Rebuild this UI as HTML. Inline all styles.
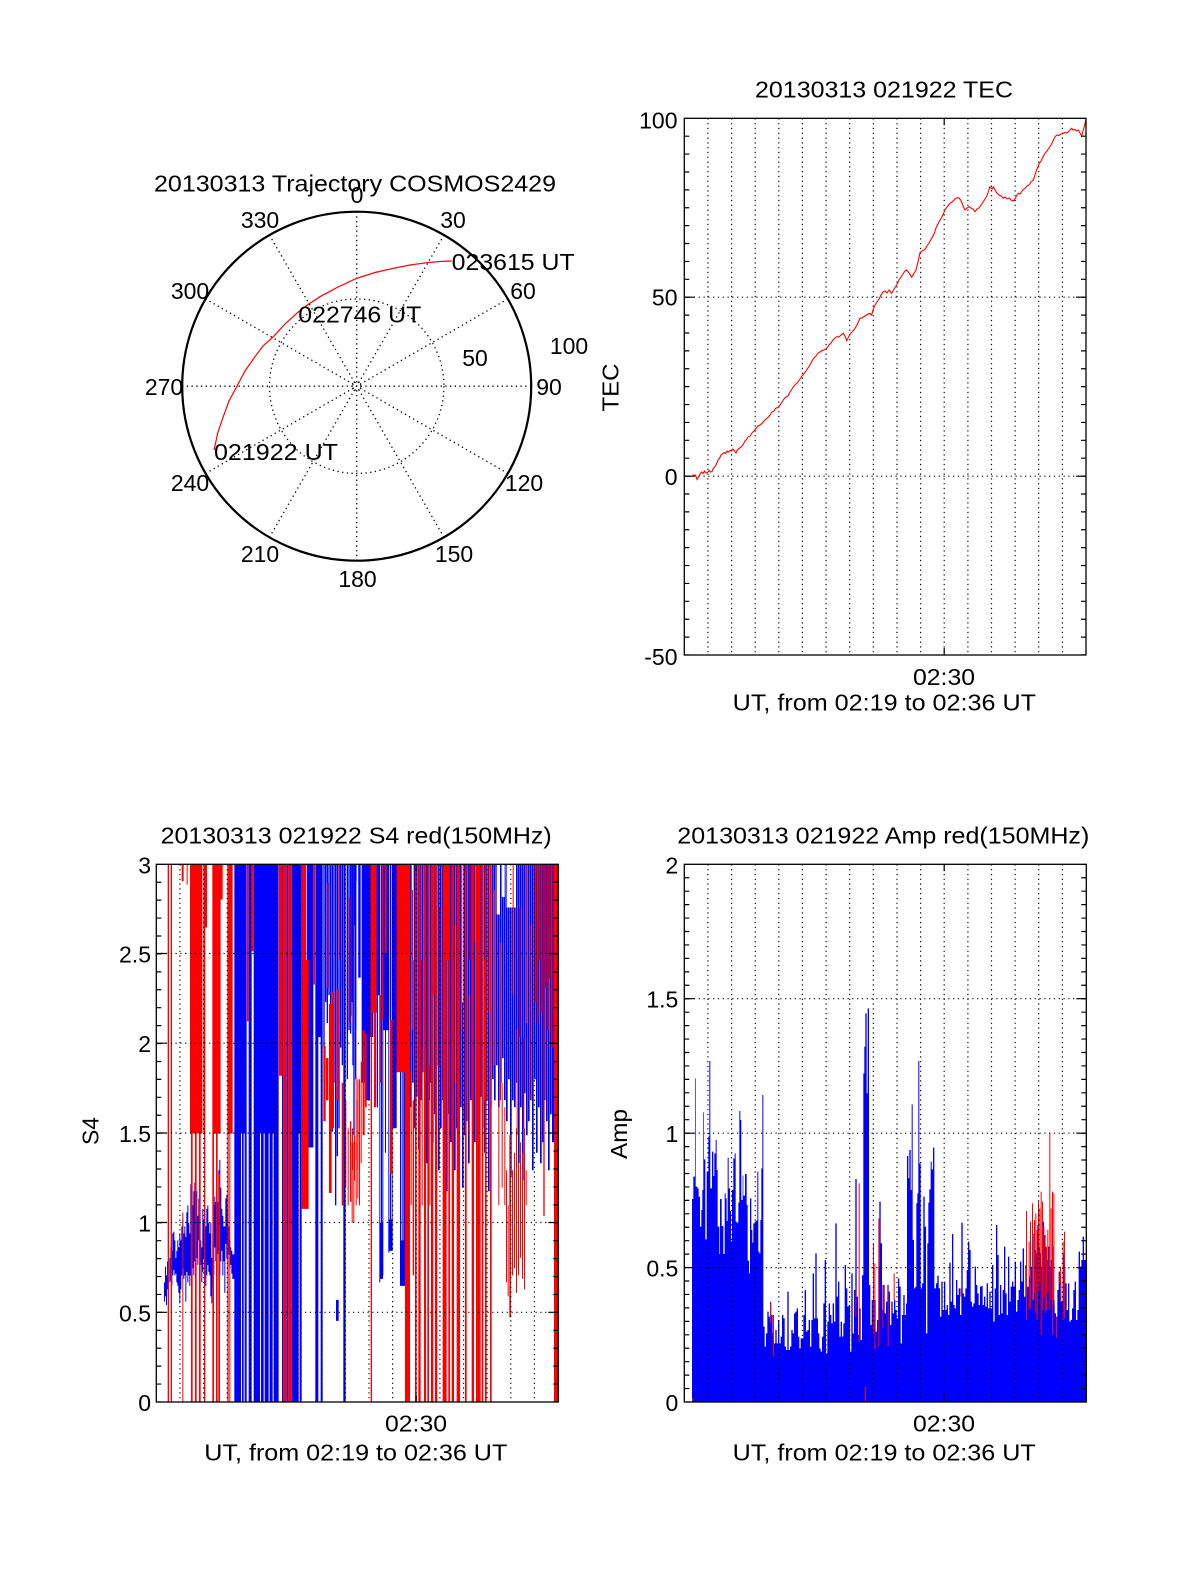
<!DOCTYPE html>
<html><head><meta charset="utf-8"><style>html,body{margin:0;padding:0;background:#fff}svg{display:block}text{font-family:"Liberation Sans",Arial,sans-serif;font-size:23px;fill:#000}</style></head><body>
<svg width="1200" height="1575" viewBox="0 0 1200 1575" xmlns="http://www.w3.org/2000/svg">
<defs>
<clipPath id="cS4"><rect x="156.3" y="864.3" width="402" height="537.7"/></clipPath>
<clipPath id="cAmp"><rect x="684.3" y="864.3" width="402" height="537.7"/></clipPath>
<clipPath id="cTEC"><rect x="684.3" y="118.3" width="401.7" height="536.7"/></clipPath>
</defs>
<rect width="1200" height="1575" fill="#fff"/>

<!-- ================= POLAR ================= -->
<g fill="none" stroke="#000">
<circle cx="356.7" cy="386.2" r="87.25" stroke-width="1.3" stroke-dasharray="1.3 3.4"/>
<circle cx="356.7" cy="386.2" r="4" stroke-width="1" stroke-dasharray="1.3 2"/>
<path stroke-width="1.3" stroke-dasharray="1.3 3.4" d="M356.7 211.7V560.7M443.95 235.08L269.45 537.32M507.82 298.95L205.58 473.45M531.2 386.2H182.2M507.82 473.45L205.58 298.95M443.95 537.32L269.45 235.08"/>
<circle cx="356.7" cy="386.2" r="174.5" stroke-width="2.2"/>
<path stroke="#f00" stroke-width="1.2" d="M214 450L218 432L223.3 416.7L229 401L236.7 386.7L245 371L255 356.7L263 346L273.3 336.7L285 324L296.7 313.3L308 304.5L320 296.7L338 287L356.7 278.3L375 272.5L393.3 268.3L410 265L426.7 262.7L440 261.5L451.7 261"/>
</g>
<text x="154" y="191.5" textLength="402" lengthAdjust="spacingAndGlyphs">20130313 Trajectory COSMOS2429</text>
<g text-anchor="middle">
<text x="357" y="203">0</text>
<text x="260" y="228">330</text>
<text x="453" y="228">30</text>
<text x="190" y="299">300</text>
<text x="523" y="299">60</text>
<text x="569" y="354">100</text>
<text x="475" y="366">50</text>
<text x="164" y="395">270</text>
<text x="549" y="395">90</text>
<text x="190" y="491">240</text>
<text x="524" y="491">120</text>
<text x="260" y="562">210</text>
<text x="454" y="562">150</text>
<text x="357.5" y="587">180</text>
</g>
<text x="451.7" y="270" textLength="123" lengthAdjust="spacingAndGlyphs">023615 UT</text>
<text x="298.3" y="322.7" textLength="123" lengthAdjust="spacingAndGlyphs">022746 UT</text>
<text x="214" y="460" textLength="124" lengthAdjust="spacingAndGlyphs">021922 UT</text>

<!-- ================= TEC ================= -->
<g fill="none" stroke="#000" stroke-width="1.2" stroke-dasharray="1.2 3.6">
<path d="M707.9 118.3V655M731.6 118.3V655M755.2 118.3V655M778.8 118.3V655M802.4 118.3V655M826.1 118.3V655M849.7 118.3V655M873.3 118.3V655M897 118.3V655M920.6 118.3V655M944.2 118.3V655M967.9 118.3V655M991.5 118.3V655M1015.1 118.3V655M1038.7 118.3V655M1062.4 118.3V655"/>
<path d="M684.3 297.2H1086M684.3 476.2H1086"/>
</g>
<polyline clip-path="url(#cTEC)" fill="none" stroke="#f00" stroke-width="1.1" points="692.7,474.5 694,476 695.5,475 697,479.5 698.5,477 700,474 701.5,472 703,473.5 704.5,471 706,473 707.5,472.5 709,470.5 710.5,472 712,471.5 713.5,468 715,466.5 716.5,464 718,460 719.5,458.5 721,455 722.5,454 724,452.5 725.5,453.5 727,451 728.5,452 730,450.5 731.5,451 733,449 734.5,451 736,453 737.5,450 739,448.5 740.5,447.5 742,446 743.5,444 745,441 746.5,439.5 748,437 750,436 752,433 754,431 756,428.5 758,426 760,425 762,423.5 764,421 766,419 768,417.5 770,415 772,412 774,411 776,408 778,407.5 780,405 782,402 784,399 786,397 788,396 790,392 792,389 794,386 796,384 798,382 800,379 802,376 804,373.5 806,371 808,368 810,365 812,361 814,358 816,356 818,353 820,352 822,350.5 824,350 826.7,348.3 829,345 831,343 833,340 835,338 836.7,336.7 839,337 841,335 843.3,333.3 845,336 846.7,340.7 849,336 851,333 853,331 855,328.3 857,325 860,318.3 862,318 865,316 868,314 870,313.3 871.7,315 873,310 875,305 877,302 879,299 881,295 883.3,291.7 885,291 887,293 889,290 891.7,293.3 894,289 896.7,285 899,280 901,277 903,274 905,271 906.7,270 909,273 911.7,277.3 913,275 916,270 918,262 920,252.7 922,251 925,249.3 927,246 929,243 931.7,238.3 934,234 936,228 938,224 940,220 942,217 945,210 947,207 950,203.3 952,202 955,199 957.3,197.7 959,198 960.7,200 962,203 963.5,207 965,210 967,208 969.3,206.7 971,208 973,209 975,211.7 977,209 979,208 981,205 983.3,201.7 985,199 987,196 988.5,191 990,186.7 992,189 993.5,187 995,190 997,193 999,195 1001,196 1003.3,198.3 1005,197 1007,199 1009,198 1011,200 1013.3,201 1015,199 1016.5,196 1018.3,193.3 1020,194 1022,191 1025,188.3 1027,186 1029,185 1031,182 1033.3,180 1035,175 1037,169 1039.3,163.3 1041,161 1043,157 1045,153.3 1047,151 1049,148 1051,145 1053,141 1055,136.7 1057,135 1059,135.5 1061,134 1063.3,133.3 1065,132.5 1067,133 1069,131 1071.7,128.3 1073,130 1075,129.5 1076.5,131 1078.3,130 1080,133 1081.7,136 1083,131 1084.5,126 1086,119.3"/>
<g fill="none" stroke="#000">
<rect x="684.3" y="118.3" width="401.7" height="536.7" stroke-width="1.3"/>
<path stroke-width="5" stroke-dasharray="1.2 16.69" stroke-dashoffset="0.6" d="M686.8 655V118.3M1083.5 655V118.3"/>
<path stroke-width="1.2" d="M684.3 297.2h10M684.3 476.2h10M1086 297.2h-10M1086 476.2h-10M944.2 655v-7M944.2 118.3v7"/>
</g>
<text x="755" y="97.3" textLength="258" lengthAdjust="spacingAndGlyphs">20130313 021922 TEC</text>
<g text-anchor="end">
<text x="677.5" y="128.3">100</text>
<text x="677.5" y="305.5">50</text>
<text x="677.5" y="485">0</text>
<text x="677.5" y="665">-50</text>
</g>
<text x="944" y="685" text-anchor="middle" textLength="62" lengthAdjust="spacingAndGlyphs">02:30</text>
<text x="732.7" y="710.7" textLength="303.3" lengthAdjust="spacingAndGlyphs">UT, from 02:19 to 02:36 UT</text>
<text transform="translate(618.3,387.5) rotate(-90)" text-anchor="middle" textLength="48" lengthAdjust="spacingAndGlyphs">TEC</text>

<!-- ================= S4 ================= -->
<g clip-path="url(#cS4)">
<g transform="translate(150,855) scale(0.333333,0.35032)">
<path fill="#00f" d="M42 1220h3V1275h-3ZM45 1175h3V1260h-3ZM48 1200h3V1285h-3ZM51 1160h3V1240h-3ZM54 1140h3V1230h-3ZM58 1150h3V1220h-3ZM61 1120h3V1215h-3ZM64 1130h3V1230h-3ZM67 1080h3V1200h-3ZM70 1075h3V1185h-3ZM73 1100h3V1200h-3ZM76 1150h3V1195h-3ZM79 1130h3V1220h-3ZM82 1100h3V1230h-3ZM85 1120h3V1250h-3ZM88 1080h3V1280h-3ZM91 1100h3V1240h-3ZM94 1060h3V1200h-3ZM97 1040h3V1180h-3ZM100 1080h3V1210h-3ZM103 1060h3V1200h-3ZM106 1090h3V1275h-3ZM109 1020h3V1190h-3ZM112 1000h3V1220h-3ZM115 1050h3V1200h-3ZM118 1080h3V1230h-3ZM121 940h3V1200h-3ZM124 920h3V1230h-3ZM127 1000h3V1180h-3ZM130 960h3V1200h-3ZM133 935h3V1160h-3ZM136 980h3V1195h-3ZM139 960h3V1150h-3ZM142 1030h3V1170h-3ZM145 980h3V1100h-3ZM148 1080h3V1220h-3ZM151 1100h3V1170h-3ZM154 1120h3V1220h-3ZM157 1010h3V1190h-3ZM160 1040h3V1150h-3ZM163 1000h3V1165h-3ZM166 1060h3V1230h-3ZM169 1010h3V1200h-3ZM172 1000h3V1170h-3ZM175 1050h3V1190h-3ZM178 1080h3V1200h-3ZM181 1050h3V1260h-3ZM184 1150h3V1280h-3ZM187 1080h3V1230h-3ZM190 1000h3V1200h-3ZM193 975h3V1120h-3ZM196 990h3V1160h-3ZM199 930h3V1110h-3ZM202 990h3V1140h-3ZM205 900h3V1130h-3ZM208 870h3V1200h-3ZM211 950h3V1160h-3ZM214 1010h3V1130h-3ZM217 1030h3V1200h-3ZM220 1060h3V1160h-3ZM223 1060h3V1250h-3ZM226 980h3V1110h-3ZM229 970h3V1150h-3ZM232 1020h3V1200h-3ZM235 1060h3V1140h-3ZM238 1100h3V1180h-3ZM241 1120h3V1170h-3ZM244 1130h3V1195h-3ZM247 1140h3V1210h-3ZM250 1140h3V1210h-3Z
M253 27H290V1560H253ZM296 27H305V1560H296ZM311 27H386V1560H311ZM396 27H400V1560H396ZM410 27H415V1560H410ZM425 27H455V1560H425ZM470 27H490V835H470ZM496 27H505V1560H496ZM505 27H512V520H505ZM512 27H518V1560H512Z
M520 27h4V550h-4ZM525 27h4V420h-4ZM530 27h4V480h-4ZM535 27h4V400h-4ZM540 27h4V700h-4ZM545 27h4V790h-4ZM550 27h4V650h-4ZM555 27h4V1000h-4ZM560 27h4V860h-4ZM565 27h4V780h-4ZM570 27h4V550h-4ZM575 27h4V600h-4ZM558 1270H566V1330H558ZM580 27H587V1560H580ZM590 27h4V640h-4ZM595 27h4V500h-4ZM600 27h4V510h-4ZM605 27h4V420h-4ZM610 27h4V800h-4ZM615 27h4V640h-4ZM620 27h4V500h-4ZM625 27h4V350h-4Z"/>
<path fill="#fff" d="M273 795H276V1560H273ZM281 795H284V1560H281ZM330 795H333V1560H330ZM341 795H344V1560H341ZM356 795H359V1560H356ZM368 795H371V1560H368ZM446 795H449V1560H446Z"/>
<path fill="#f00" d="M53 27H57V1560H53ZM62 27H66V1560H62ZM95 27H101V75H95ZM97 1020H100V1560H97ZM110 27H113V85H110ZM120 27H157V795H120ZM123 795H128V1560H123ZM135 795H140V1560H135ZM147 795H152V1560H147ZM160 27H166V795H160ZM166 27H171V207H166ZM162 795H166V1560H162ZM187 27H212V795H187ZM212 27H218V127H212ZM187 795H192V1560H187ZM198 795H203V1560H198ZM205 910H210V1560H205ZM232 27H248V795H232ZM232 795H236V1560H232ZM238 795H241V1560H238ZM291 27H296V475H291ZM305 27H311V275H305ZM387 27H398V630H387ZM400 27H410V1560H400ZM415 27H425V1560H415ZM455 27H462V1010H455ZM462 27H468V1010H462ZM468 300H476V1010H468ZM490 27H495V370H490ZM520 545H527V760H520ZM528 580H535V700H528ZM537 425H545V965H537ZM545 390H552V780H545ZM560 385H567V700H560ZM575 650H580V1000H575ZM586 700H589V950H586ZM593 780H596V1000H593ZM605 820H608V1050H605ZM610 820H613V1050H610ZM617 630H620V1000H617ZM622 650H625V980H622ZM627 640H630V1000H627ZM532 80h3V380h-3ZM567 27h3V300h-3ZM598 120h3V480h-3Z"/>
</g>
<g transform="translate(350,855) scale(0.333333,0.35032)">
<path fill="#00f" d="M2 27H5V460H2ZM7 27H10V600H7ZM12 27H15V200H12ZM17 27H20V75H17ZM25 27H32V350H25ZM35 27H45V650H35ZM45 27H60V700H45ZM60 27H70V520H60ZM70 27H90V400H70ZM80 400H84V720H80ZM88 27H91V1220H88ZM93 27H96V1150H93ZM97 27H100V1200H97ZM89 1050H99V1210H89ZM100 27H115V500H100ZM105 500H108V850H105ZM115 27H118V1135H115ZM120 27H123V1080H120ZM125 27H128V1045H125ZM116 1040H128V1130H116ZM128 27H140V780H128ZM140 27H150V600H140ZM150 27H153V1230H150ZM155 27H158V1100H155ZM160 27H165V1200H160ZM152 1100H165V1230H152Z
M180 27h5V720h-5ZM186 27h5V650h-5ZM192 27h5V780h-5ZM198 27h5V690h-5ZM204 27h5V840h-5ZM210 27h5V700h-5ZM216 27h5V620h-5ZM222 27h5V760h-5ZM228 27h5V880h-5ZM234 27h5V700h-5ZM240 27h5V650h-5ZM246 27h5V820h-5ZM252 27h5V740h-5ZM258 27h5V600h-5ZM264 27h5V900h-5ZM270 27h5V780h-5ZM276 27h5V700h-5ZM282 27h5V850h-5ZM288 27h5V960h-5ZM294 27h5V740h-5ZM300 27h5V820h-5ZM306 27h5V700h-5ZM312 27h5V900h-5ZM318 27h5V780h-5ZM324 27h5V860h-5ZM330 27h5V720h-5ZM336 27h5V950h-5ZM342 27h5V800h-5ZM348 27h5V760h-5ZM354 27h5V880h-5ZM360 27h5V700h-5ZM366 27h5V640h-5ZM372 27h5V820h-5ZM378 27h5V760h-5ZM384 27h5V900h-5ZM390 27h5V690h-5ZM396 27h5V780h-5ZM402 27h5V850h-5ZM408 27h5V700h-5ZM414 27h5V960h-5ZM420 27h5V720h-5ZM426 27h5V640h-5ZM432 27h5V700h-5ZM438 27h5V600h-5ZM444 27h5V720h-5ZM450 27h5V650h-5ZM456 27h5V580h-5ZM462 27h5V700h-5ZM468 27h5V760h-5ZM474 27h5V640h-5ZM480 27h5V920h-5ZM486 27h5V700h-5ZM492 27h5V720h-5ZM498 27h5V650h-5ZM504 27h5V880h-5ZM510 27h5V720h-5ZM516 27h5V930h-5ZM522 27h5V680h-5ZM528 27h5V800h-5ZM534 27h5V760h-5ZM540 27h5V700h-5ZM546 27h5V900h-5ZM552 27h5V640h-5ZM558 27h5V850h-5ZM564 27h5V720h-5ZM570 27h5V880h-5ZM576 27h5V820h-5ZM582 27h5V700h-5ZM588 27h5V760h-5ZM594 27h5V900h-5ZM600 27h5V740h-5ZM606 27h6V820h-6Z"/>
<path fill="#fff" d="M20 27H24V700H20ZM440 27H450V170H440ZM470 27H498V150H470ZM455 27H464V120H455ZM336 27H341V420H336ZM186 27H190V300H186Z"/>
<path fill="#f00" d="M0 760H4V990H0ZM6 780H9V900H6ZM12 800H15V930H12ZM17 820H20V870H17ZM22 640H25V900H22ZM27 700H30V880H27ZM32 590H35V880H32ZM38 500H44V800H38ZM45 510H50V720H45ZM62 27H66V1560H62ZM66 27H80V450H66ZM72 450H78V720H72ZM90 400H93V650H90ZM95 27H100V470H95ZM105 27H110V280H105ZM120 470H128V910H120ZM140 27H165V620H140ZM165 27H180V1560H165ZM182 620H185V1000H182ZM188 700H192V1200H188ZM195 27H200V1560H195ZM205 27H212V1560H205ZM215 550H218V1000H215ZM222 27H228V1560H222ZM232 27H237V1560H232ZM238 600H241V1000H238ZM243 27H250V1560H243ZM255 27H262V1560H255ZM278 27H290V1560H278ZM290 27H300V300H290ZM295 27H300V1560H295ZM305 27H312V1560H305ZM320 27H330V1560H320ZM345 27H350V1560H345ZM358 27h3V300h-3ZM374 27h3V250h-3ZM365 27H372V1560H365ZM378 27H392V1560H378ZM395 27H400V1560H395ZM405 27H410V1560H405ZM420 27H425V1560H420ZM445 700H448V1000H445ZM455 650H458V950H455ZM463 720H466V1000H463ZM468 900H471V1220H468ZM473 1000H476V1260H473ZM478 800H483V1320H478ZM486 900H489V1200H486ZM492 850H495V1180H492ZM498 780H501V1250H498ZM504 880H507V1200H504ZM510 820H513V1150H510ZM516 850H519V1210H516ZM522 780H525V1240H522ZM527 900H530V1000H527ZM500 500H503V800H500ZM520 520H523V780H520Z
M186 100h3V500h-3ZM214 300h3V700h-3ZM251 27h3V400h-3ZM268 150h3V600h-3ZM314 200h3V650h-3ZM338 27h3V500h-3ZM356 400h3V800h-3ZM402 300h3V700h-3ZM416 27h3V450h-3ZM432 100h3V600h-3ZM450 250h3V700h-3ZM488 27h3V400h-3ZM508 150h3V520h-3ZM528 27h3V480h-3ZM542 200h3V700h-3Z
M555 27h4V420h-4ZM561 27h4V480h-4ZM567 27h3V300h-3ZM573 27h4V450h-4ZM586 27h3V380h-3ZM592 27h4V500h-4ZM598 27h3V350h-3ZM603 27h3V550h-3ZM608 27h3V550h-3ZM580 27H584V1030H580ZM612 27H626V1560H612Z"/>
</g>
</g>
<g fill="none" stroke="#000" stroke-width="1.2" stroke-dasharray="1.2 3.6">
<path d="M179.9 864.3V1402M203.6 864.3V1402M227.2 864.3V1402M250.8 864.3V1402M274.5 864.3V1402M298.1 864.3V1402M321.7 864.3V1402M345.3 864.3V1402M369 864.3V1402M392.6 864.3V1402M416.2 864.3V1402M439.9 864.3V1402M463.5 864.3V1402M487.1 864.3V1402M510.8 864.3V1402M534.4 864.3V1402"/>
<path d="M156.3 953.5H558.3M156.3 1043.2H558.3M156.3 1133H558.3M156.3 1222.5H558.3M156.3 1312.3H558.3"/>
</g>
<g fill="none" stroke="#000">
<rect x="156.3" y="864.3" width="402" height="537.7" stroke-width="1.3"/>
<path stroke-width="5" stroke-dasharray="1.2 16.723" stroke-dashoffset="0.6" d="M158.8 1402V864.3M555.8 1402V864.3"/>
<path stroke-width="1.2" d="M156.3 953.5h10M156.3 1043.2h10M156.3 1133h10M156.3 1222.5h10M156.3 1312.3h10M558.3 953.5h-10M558.3 1043.2h-10M558.3 1133h-10M558.3 1222.5h-10M558.3 1312.3h-10M416.2 1402v-7M416.2 864.3v7"/>
</g>
<text x="160.7" y="843.3" textLength="391" lengthAdjust="spacingAndGlyphs">20130313 021922 S4 red(150MHz)</text>
<g text-anchor="end">
<text x="151" y="873.3">3</text>
<text x="151" y="962.5">2.5</text>
<text x="151" y="1052.2">2</text>
<text x="151" y="1142">1.5</text>
<text x="151" y="1231.5">1</text>
<text x="151" y="1321.3">0.5</text>
<text x="151" y="1411">0</text>
</g>
<text x="416" y="1431.7" text-anchor="middle" textLength="62" lengthAdjust="spacingAndGlyphs">02:30</text>
<text x="204.3" y="1460.7" textLength="303" lengthAdjust="spacingAndGlyphs">UT, from 02:19 to 02:36 UT</text>
<text transform="translate(98.3,1131) rotate(-90)" text-anchor="middle" textLength="28" lengthAdjust="spacingAndGlyphs">S4</text>

<!-- ================= AMP ================= -->
<g clip-path="url(#cAmp)">
<g transform="translate(680,1000) scale(0.333333)">
<path fill="#00f" d="M36 1205V597H40V530H45V235H47V560H52V565H56V590H60V680H64V630H67V570H70V337H72V478H76V718H80V515H85V410H88V183H91V565H96V455H100V528H103V460H107V420H110V510H113V680H118V762H120V597H125V678H130V762H134V580H137V595H140V663H143V473H146V565H150V633H153V724H156V570H160V475H164V460H167V665H170V668H175V608H178V333H181V360H184V600H188V527H190V587H195V522H200V615H203V782H207V820H210V595H214V690H217V728H220V670H224V665H228V662H232V515H235V755H238V760H241V660H244V505H247V285H250V980H254V1040H258V1000H262V935H266V950H270V908H274V945H278V1000H282V1030H286V990H290V1030H294V960H298V1030H302V1010H306V945H310V955H314V1040H318V1050H322V875H326V1050H330V1040H334V990H338V1000H342V940H346V935H350V925H354V1010H358V1045H362V1015H366V1015H370V945H374V870H378V995H382V990H386V960H390V1040H394V960H398V820H402V955H406V760H410V955H414V1000H418V1045H422V1055H426V1010H430V910H434V780H438V1060H442V965H446V910H450V945H454V970H458V910H462V965H466V670H470V890H474V845H478V1010H482V965H486V1010H490V970H494V795H498V865H502V920H506V915H510V1055H514V820H518V1000H522V870H526V537H530V890H534V1005H538V925H542V1020H546V826H550V220H553V140H556V40H560V280H563V25H567V855H571V975H575V900H579V900H583V900H587V995H591V960H595V800H598V605H602V730H606V930H610V855H614V940H618V905H622V855H626V875H630V975H634V905H638V940H642V900H646V930H650V955H654V835H658V860H662V1030H666V945H670V885H674V945H678V910H681V468H685V535H688V450H692V570H695V313H698V720H702V865H706V860H709V610H712V580H715V183H718V490H722V865H726V850H730V590H734V680H738V1000H742V730H745V608H748V568H752V485H755V508H759V443H763V865H768V850H772V827H776V865H780V950H784V845H788V930H792V845H796V930H800V915H804V945H808V788H812V905H816V702H820V915H824V925H828V840H832V885H836V865H840V945H844V668H848V880H852V890H856V865H860V810H864V725H868V750H872V905H876V920H880V910H884V800H888V855H892V880H896V915H900V860H904V858H908V915H912V890H916V920H920V850H924V925H928V875H932V925H936V795H940V965H944V865H948V675H952V765H956V945H960V855H964V940H968V870H972V740H976V880H980V945H984V770H988V905H992V860H996V845H1000V860H1004V785H1008V935H1012V900H1016V870H1020V785H1024V845H1028V745H1032V890H1036V795H1040V860H1044V860H1048V830H1052V800H1056V900H1060V700H1064V750H1068V760H1072V675H1076V740H1080V760H1084V800H1088V665H1092V705H1096V740H1100V780H1104V740H1108V800H1112V780H1116V740H1120V900H1124V940H1128V950H1132V870H1136V815H1140V850H1144V905H1148V760H1152V800H1156V850H1160V930H1164V850H1168V965H1172V960H1176V925H1180V870H1184V845H1188V960H1192V930H1196V755H1200V800H1204V780H1208V710H1212V780H1220V1205Z"/>
<path fill="#f00" d="M270 905h3V970h-3ZM279 945h3V1070h-3ZM526 870h3V950h-3ZM536 550h3V1025h-3ZM579 730h3V1000h-3ZM583 790h3V1050h-3ZM595 655h3V1040h-3ZM607 855h3V985h-3ZM623 858h3V1040h-3ZM641 820h3V900h-3ZM841 865h3V890h-3ZM1038 633h3V960h-3ZM1046 725h3V930h-3ZM1050 665h3V925h-3ZM1056 610h3V900h-3ZM1062 660h3V880h-3ZM1066 640h3V940h-3ZM1070 690h3V960h-3ZM1074 605h3V870h-3ZM1078 625h3V850h-3ZM1082 575h3V1005h-3ZM1086 605h3V930h-3ZM1090 680h3V890h-3ZM1094 705h3V940h-3ZM1098 740h3V930h-3ZM1102 690h3V880h-3ZM1108 398h3V930h-3ZM1112 625h3V900h-3ZM1116 575h3V1005h-3ZM1120 580h3V915h-3ZM1128 950h3V1015h-3ZM1136 815h3V850h-3ZM1140 800h3V905h-3ZM1148 725h3V960h-3ZM1152 695h3V955h-3ZM555 1160h3V1205h-3ZM36 1195h3V1205h-3Z"/>
</g>
</g>
<g fill="none" stroke="#000" stroke-width="1.2" stroke-dasharray="1.2 3.6">
<path d="M707.9 864.3V1402M731.6 864.3V1402M755.2 864.3V1402M778.8 864.3V1402M802.4 864.3V1402M826.1 864.3V1402M849.7 864.3V1402M873.3 864.3V1402M897 864.3V1402M920.6 864.3V1402M944.2 864.3V1402M967.9 864.3V1402M991.5 864.3V1402M1015.1 864.3V1402M1038.7 864.3V1402M1062.4 864.3V1402"/>
<path d="M684.3 998.7H1086.3M684.3 1133.2H1086.3M684.3 1267.6H1086.3"/>
</g>
<g fill="none" stroke="#000">
<rect x="684.3" y="864.3" width="402" height="537.7" stroke-width="1.3"/>
<path stroke-width="5" stroke-dasharray="1.2 12.2425" stroke-dashoffset="0.6" d="M686.8 1402V864.3M1083.8 1402V864.3"/>
<path stroke-width="1.2" d="M684.3 998.7h10M684.3 1133.2h10M684.3 1267.6h10M1086.3 998.7h-10M1086.3 1133.2h-10M1086.3 1267.6h-10M944.2 1402v-7M944.2 864.3v7"/>
</g>
<text x="677.3" y="843.3" textLength="412" lengthAdjust="spacingAndGlyphs">20130313 021922 Amp red(150MHz)</text>
<g text-anchor="end">
<text x="678.3" y="873.5">2</text>
<text x="678.3" y="1007.7">1.5</text>
<text x="678.3" y="1142.2">1</text>
<text x="678.3" y="1276.6">0.5</text>
<text x="678.3" y="1411">0</text>
</g>
<text x="944" y="1431.7" text-anchor="middle" textLength="62" lengthAdjust="spacingAndGlyphs">02:30</text>
<text x="732.7" y="1460.7" textLength="303" lengthAdjust="spacingAndGlyphs">UT, from 02:19 to 02:36 UT</text>
<text transform="translate(627,1134) rotate(-90)" text-anchor="middle" textLength="50" lengthAdjust="spacingAndGlyphs">Amp</text>
</svg>
</body></html>
